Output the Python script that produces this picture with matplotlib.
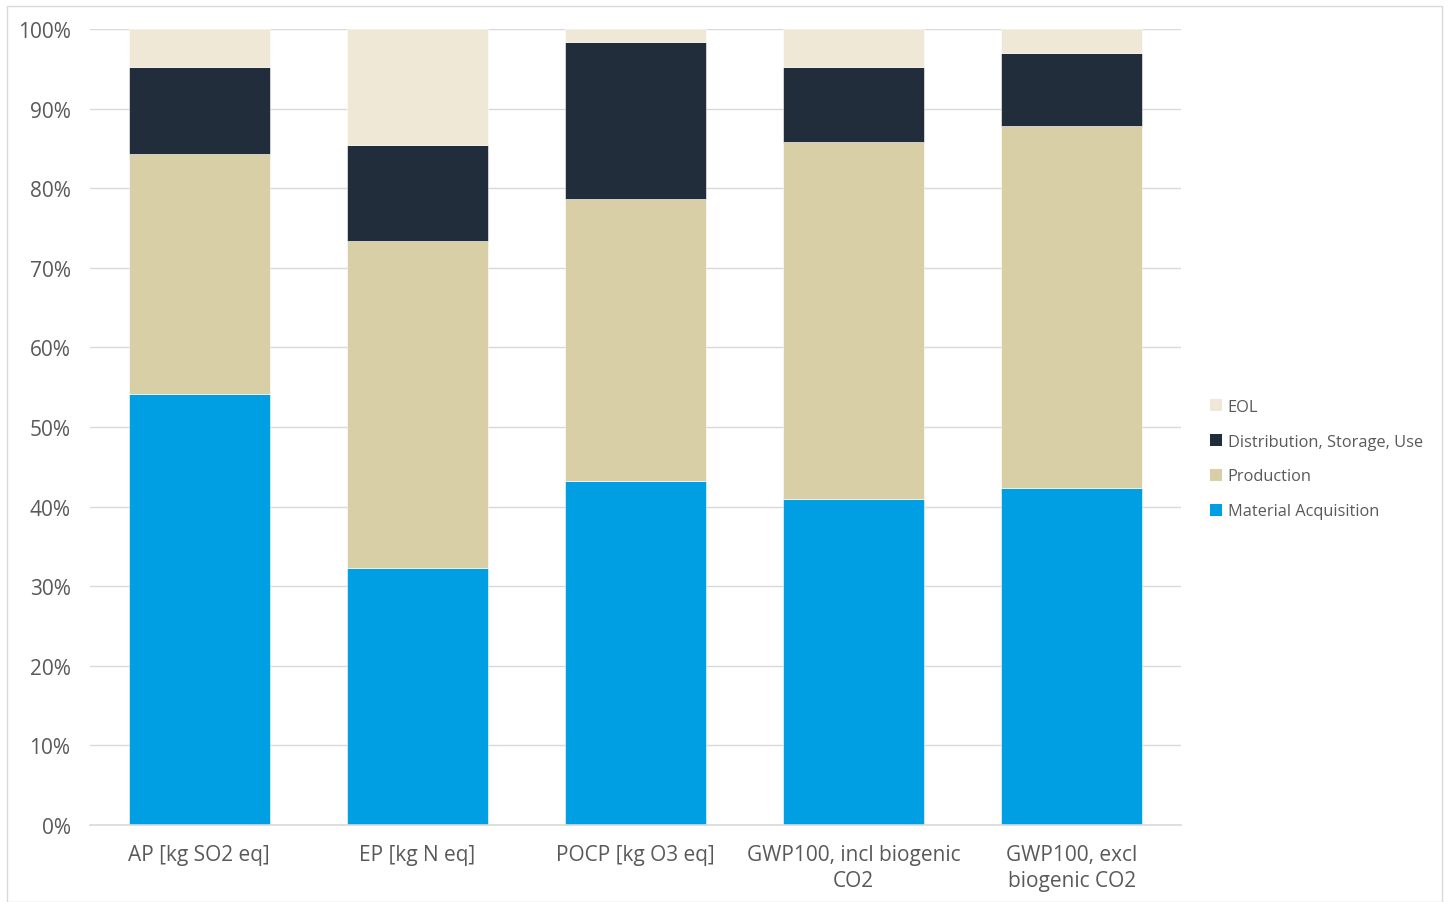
import numpy as np
import matplotlib.pyplot as plt
from matplotlib.patches import Rectangle, Patch
from matplotlib.ticker import FixedLocator, PercentFormatter

plt.rcParams['font.family'] = ['Open Sans', 'DejaVu Sans']

categories = ['AP [kg SO2 eq]', 'EP [kg N eq]', 'POCP [kg O3 eq]',
              'GWP100, incl biogenic\nCO2', 'GWP100, excl\nbiogenic CO2']
material = [54.2, 32.3, 43.2, 41.0, 42.3]
production = [30.1, 41.1, 35.4, 44.8, 45.5]
distribution = [10.9, 12.0, 19.8, 9.4, 9.2]
eol = [4.8, 14.6, 1.6, 4.8, 3.0]

series = [('Material Acquisition', material, '#009FE3'),
          ('Production', production, '#D9CFA7'),
          ('Distribution, Storage, Use', distribution, '#212D3B'),
          ('EOL', eol, '#EFE8D6')]

fig = plt.figure(figsize=(14.49, 9.03), dpi=100)
ax = fig.add_axes([90/1449, 1 - 826/903, (1181-90)/1449, (826-30)/903])

# light frame around the whole chart
fig.patches.append(Rectangle((7/1449, 0.0), 1 - 14/1449, 1 - 7/903, transform=fig.transFigure,
                             fill=False, edgecolor='#D9D9D9', linewidth=1))

x = np.arange(len(categories))
bottom = np.zeros(len(categories))
for name, vals, col in series:
    vals = np.array(vals)
    ax.bar(x, vals, 0.646, bottom=bottom, color=col, edgecolor='white', linewidth=0.4, zorder=2)
    bottom += vals

ax.set_xlim(-0.5, len(categories) - 0.5)
ax.set_ylim(0, 100)
ax.yaxis.set_major_locator(FixedLocator(np.arange(0, 101, 10)))
ax.yaxis.set_major_formatter(PercentFormatter(decimals=0))
ax.grid(True, axis='y', color='#D9D9D9', linewidth=1, zorder=0)
ax.set_axisbelow(True)
for s in ['top', 'right', 'left']:
    ax.spines[s].set_visible(False)
ax.spines['bottom'].set_color('#D9D9D9')
ax.spines['bottom'].set_linewidth(1.2)
ax.tick_params(axis='both', length=0, colors='#595959', labelsize=15)
ax.tick_params(axis='x', pad=14)
ax.tick_params(axis='y', pad=14)
ax.set_xticks(x)
ax.set_xticklabels(categories, linespacing=1.3)

handles = [Patch(facecolor=col, edgecolor='none', label=name) for name, vals, col in series]
fig.legend(handles=handles[::-1], loc='center left', bbox_to_anchor=(1195/1449, 1 - 460/903),
           frameon=False, fontsize=11.8, labelcolor='#595959', handlelength=0.75, handleheight=0.75,
           handletextpad=0.35, labelspacing=1.15)

fig.savefig('out.png', dpi=100, facecolor='white')
